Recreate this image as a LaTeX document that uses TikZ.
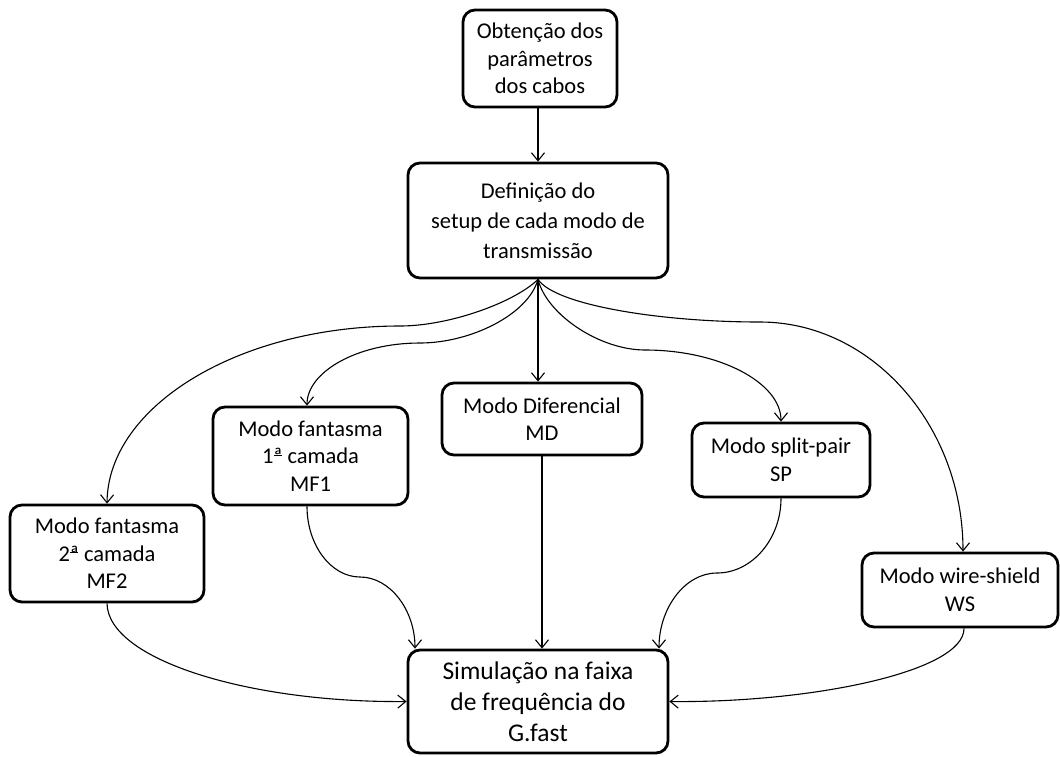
\documentclass[tikz,border=0pt]{standalone}
\usepackage{fontspec}
\setmainfont{Carlito}
\usetikzlibrary{arrows.meta}
% feminine ordinal with its underline bar
\newcommand\ordfa{\makebox[0pt][l]{\hspace{0.02em}\raisebox{0.36em}{\rule{0.36em}{0.05em}}}ª}
\begin{document}
\begin{tikzpicture}[x=1pt,y=-1pt,
  box/.style={draw, line width=2.8pt, rounded corners=12pt, align=center,
    inner sep=0pt, font=\fontsize{22.5}{27.5}\selectfont},
  link/.style={line width=1.1pt, -{Straight Barb[length=8pt,width=13pt,line width=1.1pt]}}]
\useasboundingbox (0,0) rectangle (1060,756);

% process boxes
\node[box, minimum width=154pt, minimum height=97pt] (top) at (540,58.5)
  {Obtenção dos\\parâmetros\\dos cabos};
\node[box, minimum width=260pt, minimum height=115pt,
  font=\fontsize{22.5}{30}\selectfont] (def) at (538,220.5)
  {Definição do\\setup de cada modo de\\transmissão};
\node[box, minimum width=195pt, minimum height=98pt] (mf1) at (310.5,456)
  {Modo fantasma\\1\ordfa{} camada\\MF1};
\node[box, minimum width=194pt, minimum height=97pt] (mf2) at (107,553.5)
  {Modo fantasma\\2\ordfa{} camada\\MF2};
\node[box, minimum width=200pt, minimum height=72pt] (md) at (542,419)
  {Modo Diferencial\\MD};
\node[box, minimum width=178pt, minimum height=74pt] (sp) at (781,460)
  {Modo split-pair\\SP};
\node[box, minimum width=196pt, minimum height=74pt] (ws) at (960,590)
  {Modo wire-shield\\WS};
\node[box, minimum width=260pt, minimum height=103pt,
  font=\fontsize{25.5}{31}\selectfont] (sim) at (538,701.5)
  {Simulação na faixa\\de frequência do\\G.fast};

% straight links
\draw[link] (top.south -| def.south) -- (def.north);
\draw[link] (def.south) -- (def.south |- md.north);
\draw[link] (md.south) -- (md.south |- sim.north);

% fan-out from the setup box
\draw[link] (def.south) .. controls (515,302) and (450,326) .. (400,326)
  .. controls (239,326) and (108,406) .. (mf2.north);
\draw[link] (def.south) .. controls (528,315) and (470,343) .. (420,343)
  .. controls (357,343) and (307,372) .. (mf1.north -| 307,0);
\draw[link] (def.south) .. controls (547,315) and (600,350) .. (645,350)
  .. controls (720,350) and (781,383) .. (sp.north);
\draw[link] (def.south) .. controls (555,305) and (660,322) .. (760,322)
  .. controls (872,322) and (963,426) .. (ws.north -| 963,0);

% fan-in to the simulation box
\draw[link] (mf2.south) .. controls (108,660) and (250,703) .. (sim.west);
\draw[link] (mf1.south -| 307,0) .. controls (307,545) and (331,577) .. (360,577)
  .. controls (390,577) and (415,610) .. (sim.north -| 415,0);
\draw[link] (sp.south) .. controls (781,539) and (752,573) .. (717,573)
  .. controls (685,573) and (659,608) .. (sim.north -| 659,0);
\draw[link] (ws.south -| 964,0) .. controls (964,672) and (810,703) .. (sim.east);
\end{tikzpicture}
\end{document}
